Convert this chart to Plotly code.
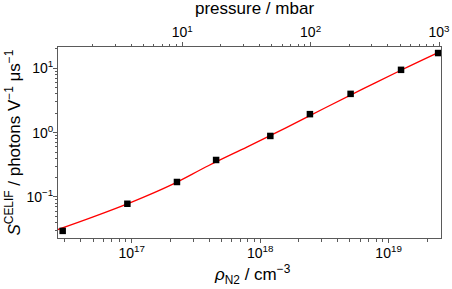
import plotly.graph_objects as go
import numpy as np

# Data
rho_n2 = [2.90e16, 9.25e16, 2.25e17, 4.54e17, 1.20e18, 2.44e18, 5.06e18, 1.25e19, 2.43e19]   # cm^-3
s_celif = [0.0297, 0.0784, 0.171, 0.376, 0.889, 1.94, 4.01, 9.48, 17.3]                    # photons V^-1 us^-1
s_err = [0.003, 0.007, 0.014, 0.03, 0.07, 0.15, 0.32, 0.75, 1.4]

# fit curve (log10 values)
fit_log_rho = [16.42, 16.70, 17.00, 17.30, 17.60, 17.90, 18.20, 18.50, 18.80, 19.10, 19.385]
fit_log_s = [-1.51, -1.31, -1.08, -0.82, -0.51, -0.22, 0.075, 0.38, 0.68, 0.975, 1.245]

rho_per_mbar = 2.47e16  # cm^-3 per mbar (top-axis alignment)
pressure = [r / rho_per_mbar for r in rho_n2]

# tick labels
x_tickvals = [1e17, 1e18, 1e19]
x_ticktext = ["10<sup>17</sup>", "10<sup>18</sup>", "10<sup>19</sup>"]
p_tickvals = [10, 100, 1000]
p_ticktext = ["10<sup>1</sup>", "10<sup>2</sup>", "10<sup>3</sup>"]
y_tickvals = [0.1, 1, 10]
y_ticktext = ["10<sup>−1</sup>", "10<sup>0</sup>", "10<sup>1</sup>"]

x_range = [16.426, 19.408]
y_range = [-1.638, 1.332]


def minor_vals(lo, hi):
    return [k * 10.0 ** d for d in range(lo, hi) for k in range(2, 10)]


FONT = "Liberation Sans, Arial, sans-serif"
AX = "#5a5a5a"

fig = go.Figure()
fig.add_trace(go.Scatter(x=[10 ** v for v in fit_log_rho], y=[10 ** v for v in fit_log_s], mode="lines",
                         line=dict(color="#ff0000", width=1.3, shape="spline"),
                         hoverinfo="skip", showlegend=False))
fig.add_trace(go.Scatter(x=rho_n2, y=s_celif, mode="markers",
                         marker=dict(symbol="square", size=6.5, color="black"),
                         error_y=dict(type="data", array=s_err, color="black", thickness=1.2, width=0),
                         showlegend=False))
fig.add_trace(go.Scatter(x=pressure, y=s_celif, xaxis="x2", mode="markers", marker=dict(opacity=0),
                         hoverinfo="skip", showlegend=False))


def axis(tv, tt, mv, **kw):
    d = dict(showline=True, linecolor=AX, linewidth=1, ticks="outside", ticklen=4, tickcolor=AX,
             showgrid=False, zeroline=False, type="log", automargin=False,
             tickmode="array", tickvals=tv, ticktext=tt,
             tickfont=dict(family=FONT, size=14, color="black"),
             minor=dict(ticks="outside", ticklen=2.5, tickcolor=AX, tickmode="array", tickvals=mv,
                        showgrid=False))
    d.update(kw)
    return d


fig.update_layout(
    width=452, height=289,
    margin=dict(l=58, r=11, t=47, b=51),
    plot_bgcolor="white", paper_bgcolor="white",
    font=dict(family=FONT, size=17, color="black"),
    xaxis=axis(x_tickvals, x_ticktext, minor_vals(16, 20), range=x_range, ticklabelstandoff=-2),
    xaxis2=axis(p_tickvals, p_ticktext, minor_vals(0, 4),
                range=[x_range[0] - np.log10(rho_per_mbar), x_range[1] - np.log10(rho_per_mbar)],
                overlaying="x", side="top", ticklabelstandoff=-1),
    yaxis=axis(y_tickvals, y_ticktext, minor_vals(-2, 2), range=y_range, mirror=True,
               ticklabelstandoff=-3),
    annotations=[
        dict(text="pressure / mbar", xref="paper", yref="paper", x=0.514, y=1.204,
             showarrow=False, xanchor="center", yanchor="middle", font=dict(size=17)),
        dict(text="<i>ρ</i><sub>N2</sub> / cm<sup>−3</sup>", xref="paper", yref="paper", x=0.508, y=-0.19,
             showarrow=False, xanchor="center", yanchor="middle", font=dict(size=17)),
        dict(text="<i>S</i><sup>CELIF</sup> / photons V<sup>−1</sup> μs<sup>−1</sup>", xref="paper", yref="paper",
             x=-0.120, y=0.5, textangle=-90, showarrow=False, xanchor="center", yanchor="middle",
             font=dict(size=17)),
    ],
)

fig.write_html("out.html", config={"displayModeBar": False},
               post_script="document.body.style.margin='0';document.body.style.overflow='hidden';")
